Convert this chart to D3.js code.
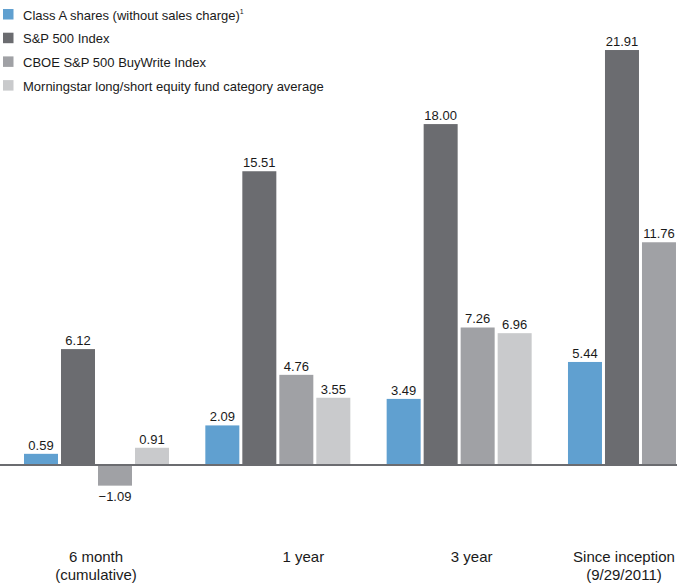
<!DOCTYPE html>
<html>
<head>
<meta charset="utf-8">
<script src="https://cdn.jsdelivr.net/npm/d3@7"></script>
<style>
  html, body { margin: 0; padding: 0; background: #fff; }
  svg { display: block; }
  text { font-family: "Liberation Sans", Arial, sans-serif; fill: #1a1a1a; }
</style>
</head>
<body>
<svg id="chart" width="700" height="584"></svg>
<script>
const categories = ["6 month\n(cumulative)", "1 year", "3 year", "Since inception\n(9/29/2011)"];
const seriesNames = [
  "Class A shares (without sales charge)",
  "S&P 500 Index",
  "CBOE S&P 500 BuyWrite Index",
  "Morningstar long/short equity fund category average"
];
const classA      = [0.59, 2.09, 3.49, 5.44];
const sp500       = [6.12, 15.51, 18.00, 21.91];
const cboe        = [-1.09, 4.76, 7.26, 11.76];
const morningstar = [0.91, 3.55, 6.96, null];
const seriesValues = [classA, sp500, cboe, morningstar];
const colors = ["#60a0d0", "#6b6c70", "#a0a1a5", "#c9cacc"];

const svg = d3.select("#chart");

const x0 = d3.scaleBand().domain(categories).range([24, 716]).paddingInner(0.1837).paddingOuter(0);
const x1 = d3.scaleBand().domain(d3.range(seriesNames.length)).range([0, 145]).paddingInner(3/37).paddingOuter(0);
const y = d3.scaleLinear().domain([0, 22]).range([465, 465 - 22 * 18.94]);

// bars
const groups = svg.append("g").selectAll("g").data(categories).join("g")
  .attr("transform", c => `translate(${x0(c)},0)`);

groups.each(function(c, ci) {
  const g = d3.select(this);
  const vals = seriesValues.map((s, si) => ({si, v: s[ci]})).filter(d => d.v !== null);
  g.selectAll("rect").data(vals).join("rect")
    .attr("x", d => x1(d.si))
    .attr("width", x1.bandwidth())
    .attr("y", d => y(Math.max(0, d.v)))
    .attr("height", d => Math.abs(y(d.v) - y(0)))
    .attr("fill", d => colors[d.si]);
  g.selectAll("text.val").data(vals).join("text")
    .attr("class", "val")
    .attr("x", d => x1(d.si) + x1.bandwidth() / 2)
    .attr("y", d => d.v >= 0 ? y(d.v) - 4 : y(d.v) + 15)
    .attr("text-anchor", "middle")
    .attr("font-size", 13)
    .text(d => (d.v < 0 ? "\u2212" + Math.abs(d.v).toFixed(2) : d.v.toFixed(2)));
});

// zero axis line
svg.append("line")
  .attr("x1", 0).attr("x2", 677)
  .attr("y1", y(0)).attr("y2", y(0))
  .attr("stroke", "#6b6c70").attr("stroke-width", 2);

// category labels
const labelShift = [-2, 24, 11, -18];
categories.forEach((c, i) => {
  const lines = c.split("\n");
  const t = svg.append("text")
    .attr("x", x0(c) + x0.bandwidth() / 2 + labelShift[i])
    .attr("y", 562)
    .attr("text-anchor", "middle")
    .attr("font-size", 15);
  lines.forEach((l, li) => {
    t.append("tspan").attr("x", x0(c) + x0.bandwidth() / 2 + labelShift[i])
      .attr("dy", li === 0 ? 0 : 18).text(l);
  });
});

// legend
const legend = svg.append("g").selectAll("g").data(seriesNames).join("g")
  .attr("transform", (d, i) => `translate(3, ${9 + i * 23.7})`);
legend.append("rect").attr("width", 10.5).attr("height", 10.5).attr("fill", (d, i) => colors[i]);
legend.append("text").attr("x", 20).attr("y", 10.5).attr("font-size", 13)
  .text(d => d)
  .filter((d, i) => i === 0)
  .append("tspan").attr("font-size", 7).attr("dy", -6).text("1");
</script>
</body>
</html>
